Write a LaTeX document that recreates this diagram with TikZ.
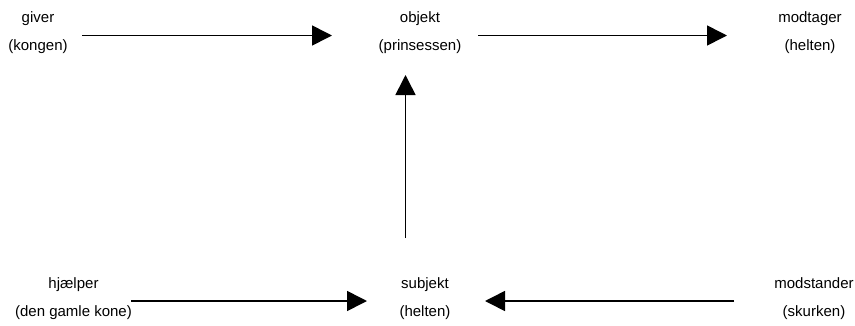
\documentclass[tikz,border=0pt]{standalone}
\usepackage{fontspec}
\setmainfont{Liberation Sans}
\usetikzlibrary{arrows.meta}
\begin{document}
\begin{tikzpicture}[x=1pt,y=-1pt,
  lbl/.style={align=center,inner sep=0pt,anchor=north,font=\fontsize{15}{28}\selectfont},
  arr/.style={line width=1.6pt,-{Triangle[length=20pt,width=20pt]}}]
\useasboundingbox (0,0) rectangle (855,325);
\node[lbl] (giver) at (38,11) {giver\\(kongen)};
\node[lbl] (objekt) at (420,11) {objekt\\(prinsessen)};
\node[lbl] (modtager) at (810,11) {modtager\\(helten)};
\node[lbl] (hjaelper) at (73.5,277) {hjælper\\(den gamle kone)};
\node[lbl] (subjekt) at (425,277) {subjekt\\(helten)};
\node[lbl] (modstander) at (814,277) {modstander\\(skurken)};
\coordinate (a1s) at (82,35.5);
\coordinate (a1e) at (332,35.5);
\coordinate (a2s) at (478,35.5);
\coordinate (a2e) at (727,35.5);
\coordinate (a3s) at (405.5,238);
\coordinate (a3e) at (405.5,75);
\coordinate (a4s) at (131,301);
\coordinate (a4e) at (367,301);
\coordinate (a5s) at (734,301);
\coordinate (a5e) at (485,301);
\draw[arr] (a1s) -- (a1e);
\draw[arr] (a2s) -- (a2e);
\draw[arr] (a3s) -- (a3e);
\draw[arr] (a4s) -- (a4e);
\draw[arr] (a5s) -- (a5e);
\end{tikzpicture}
\end{document}
